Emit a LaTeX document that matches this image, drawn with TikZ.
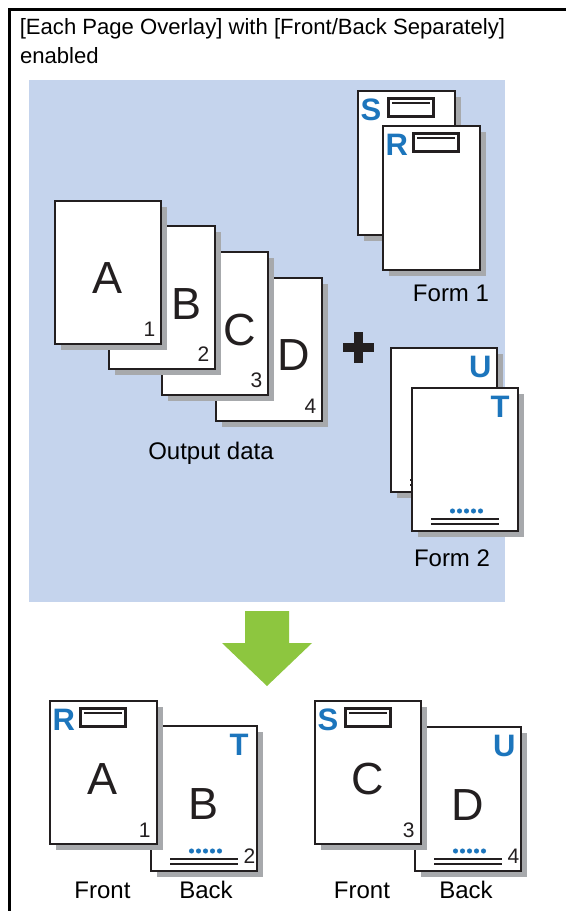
\documentclass[tikz,border=0pt]{standalone}
\usepackage{fontspec}
\setmainfont{Liberation Sans}
\usetikzlibrary{calc,shadows}
\definecolor{ink}{HTML}{231F20}
\definecolor{shgray}{HTML}{A7A9AC}
\definecolor{panelblue}{HTML}{C5D4ED}
\definecolor{formblue}{HTML}{1C75BC}
\definecolor{arrowgreen}{HTML}{8DC63F}
\tikzset{
  paper/.style={rectangle, draw=ink, line width=2.2pt, fill=white, inner sep=0pt, outer sep=0pt,
    anchor=north west, minimum width=106pt, minimum height=143pt,
    drop shadow={shadow xshift=5.5pt, shadow yshift=-5.5pt, fill=shgray, opacity=1}},
  narrowpaper/.style={paper, minimum width=97pt, minimum height=144pt},
  bigletter/.style={inner sep=0pt, text=ink, font=\fontsize{45}{50}\selectfont},
  pagenum/.style={inner sep=0pt, text=ink, anchor=base east, font=\fontsize{21}{24}\selectfont},
  blueletter/.style={inner sep=0pt, text=formblue, font=\fontsize{31}{34}\selectfont\bfseries},
  hdrbox/.style={rectangle, draw=ink, line width=2.8pt, inner sep=0pt, outer sep=0pt, anchor=north west,
    minimum width=45.2pt, minimum height=18.2pt},
  boxline/.style={draw=ink, line width=2.6pt},
  rule/.style={draw=ink, line width=2pt},
  titletext/.style={inner sep=0pt, anchor=base west, text=black, font=\fontsize{22.1}{27}\selectfont},
  labeltext/.style={inner sep=0pt, anchor=base, text=black, font=\fontsize{24}{28}\selectfont},
  frameline/.style={draw=black, line width=3pt},
}
\newcommand\hdrmark[2]{%
  \node[blueletter, anchor=base west] (#1-l) at ($(#1.north west)+(2.3,29)$) {#2};
  \node[hdrbox] (#1-b) at ($(#1.north west)+(30.4,7.4)$) {};
  \draw[boxline] ($(#1-b.north west)+(3.6,4.6)$) -- ($(#1-b.north east)+(-3.6,4.6)$);
}
\newcommand\ftrmark[1]{%
  \foreach \i in {0,...,4} {\fill[formblue] ($(#1.south west)+(40.5+7*\i,-20)$) circle (2.55);}
  \draw[rule] ($(#1.south west)+(19,-12.5)$) -- ($(#1.south west)+(87,-12.5)$);
  \draw[rule] ($(#1.south west)+(19,-7)$) -- ($(#1.south west)+(87,-7)$);
}
\begin{document}
\begin{tikzpicture}[x=1pt,y=-1pt]
\useasboundingbox (0,0) rectangle (566,911);
\fill[white] (0,0) rectangle (566,911);
\draw[frameline] (9.5,911) -- (9.5,9.5) -- (566,9.5);
\node[titletext] (t1) at (19.6,34.3) {[Each Page Overlay] with [Front/Back Separately]};
\node[titletext] (t2) at (19.8,63) {enabled};
\fill[panelblue] (29,80) rectangle (505,602);

% Output data
\node[paper] (oD) at (216,278) {};
\node[bigletter] (oD-c) at ($(oD.north west)+(78,77)$) {D};
\node[pagenum] (oD-n) at ($(oD.south east)+(-5.5,-7.5)$) {4};
\node[paper] (oC) at (162,252) {};
\node[bigletter] (oC-c) at ($(oC.north west)+(78,78)$) {C};
\node[pagenum] (oC-n) at ($(oC.south east)+(-5.5,-7.5)$) {3};
\node[paper] (oB) at (109,226) {};
\node[bigletter] (oB-c) at ($(oB.north west)+(78,78)$) {B};
\node[pagenum] (oB-n) at ($(oB.south east)+(-5.5,-7.5)$) {2};
\node[paper] (oA) at (55,201) {};
\node[bigletter] (oA-c) at ($(oA.north west)+(53,77)$) {A};
\node[pagenum] (oA-n) at ($(oA.south east)+(-5.5,-7.5)$) {1};
\node[labeltext] (outlbl) at (211,459) {Output data};

% plus
\fill[ink] (343,343) rectangle (374,352);
\fill[ink] (354,332) rectangle (363,363);

% Form 1
\node[narrowpaper] (fS) at (358,91) {};
\hdrmark{fS}{S}
\node[narrowpaper] (fR) at (383,126) {};
\hdrmark{fR}{R}
\node[labeltext] (f1lbl) at (451,301) {Form 1};

% Form 2
\node[paper, minimum height=144pt] (fU) at (391,348) {};
\node[blueletter, anchor=base east] (fU-l) at ($(fU.north east)+(-5.2,29)$) {U};
\ftrmark{fU}
\node[paper] (fT) at (412,388) {};
\node[blueletter, anchor=base east] (fT-l) at ($(fT.north east)+(-8.3,29)$) {T};
\ftrmark{fT}
\node[labeltext] (f2lbl) at (452,566) {Form 2};

% green arrow
\fill[arrowgreen] (245,611) -- (289,611) -- (289,643) -- (312,643) -- (267,686) -- (222,643) -- (245,643) -- cycle;

% Result 1
\node[paper, minimum height=145pt] (rB) at (151,726) {};
\node[blueletter, anchor=base east] (rB-l) at ($(rB.north east)+(-8.3,29)$) {T};
\node[bigletter] (rB-c) at ($(rB.north west)+(53,78)$) {B};
\ftrmark{rB}
\node[pagenum] (rB-n) at ($(rB.south east)+(-1.5,-8)$) {2};
\node[paper, minimum width=107pt] (rA) at (50,701) {};
\hdrmark{rA}{R}
\node[bigletter] (rA-c) at ($(rA.north west)+(53,78)$) {A};
\node[pagenum] (rA-n) at ($(rA.south east)+(-6.3,-7)$) {1};
\node[labeltext] (frontA) at (102.5,898) {Front};
\node[labeltext] (backB) at (206,898) {Back};

% Result 2
\node[paper, minimum height=144pt] (rD) at (415,727) {};
\node[blueletter, anchor=base east] (rD-l) at ($(rD.north east)+(-5.2,29)$) {U};
\node[bigletter] (rD-c) at ($(rD.north west)+(53,78)$) {D};
\ftrmark{rD}
\node[pagenum] (rD-n) at ($(rD.south east)+(-1.5,-8)$) {4};
\node[paper] (rC) at (315,701) {};
\hdrmark{rC}{S}
\node[bigletter] (rC-c) at ($(rC.north west)+(53,78)$) {C};
\node[pagenum] (rC-n) at ($(rC.south east)+(-6.3,-7)$) {3};
\node[labeltext] (frontC) at (362,898) {Front};
\node[labeltext] (backD) at (466,898) {Back};
\end{tikzpicture}
\end{document}
